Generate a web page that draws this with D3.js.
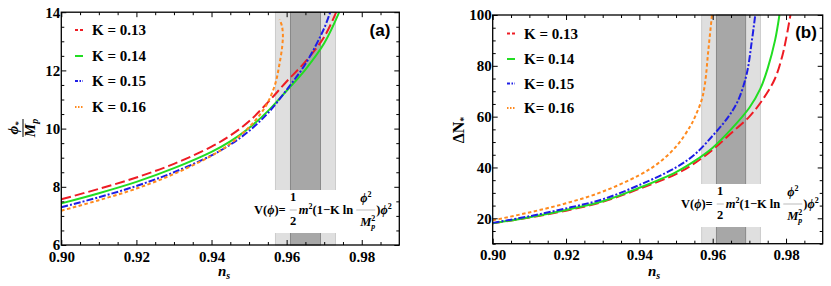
<!DOCTYPE html>
<html><head><meta charset="utf-8">
<script src="https://cdn.jsdelivr.net/npm/d3@7"></script>
<style>body{margin:0;background:#fff} svg text{font-family:'Liberation Serif','Times New Roman',serif;}</style>
</head><body><svg id="c" width="831" height="286"></svg>
<script>
// ---------------- DATA ----------------
const nsMajorTicks = [0.90, 0.92, 0.94, 0.96, 0.98];
const phiTicks = [6, 8, 10, 12, 14];
const dnTicks = [20, 40, 60, 80, 100];
const legendA = ["K = 0.13", "K = 0.14", "K = 0.15", "K = 0.16"];
const legendB = ["K = 0.13", "K= 0.14", "K= 0.15", "K= 0.16"];
const bandOuter = [0.957, 0.973];
const bandInner = [0.961, 0.969];

// panel (a): phi_*/M_p vs n_s
const phiK013 = [[0.900,7.57],[0.910,7.93],[0.920,8.32],[0.930,8.79],[0.940,9.38],[0.945,9.76],[0.950,10.25],[0.955,10.90],[0.960,11.62],[0.965,12.30],[0.970,13.15],[0.9732,14.0]];
const phiK014 = [[0.900,7.43],[0.910,7.78],[0.920,8.17],[0.930,8.64],[0.940,9.20],[0.945,9.56],[0.950,10.02],[0.955,10.60],[0.960,11.30],[0.965,12.03],[0.970,12.93],[0.9740,14.0]];
const phiK015 = [[0.900,7.30],[0.910,7.64],[0.920,8.03],[0.930,8.50],[0.940,9.08],[0.945,9.45],[0.950,9.92],[0.955,10.53],[0.960,11.33],[0.965,12.22],[0.970,13.45],[0.9716,14.0]];
const phiK016 = [[0.900,7.18],[0.910,7.54],[0.920,7.94],[0.930,8.44],[0.940,9.07],[0.945,9.48],[0.950,10.05],[0.953,10.50],[0.955,10.90],[0.957,11.55],[0.958,12.15],[0.9588,12.80],[0.9590,13.25],[0.9587,13.55],[0.9581,13.75]];

// panel (b): Delta N_* vs n_s
const dnK013 = [[0.900,18.0],[0.910,20.3],[0.920,23.0],[0.930,26.5],[0.940,31.6],[0.950,37.4],[0.955,41.6],[0.960,47.0],[0.965,53.5],[0.970,60.0],[0.974,67.5],[0.977,75.0],[0.979,84.0],[0.980,90.5],[0.9812,100.0]];
const dnK014 = [[0.900,18.0],[0.910,20.4],[0.920,23.3],[0.930,26.7],[0.940,32.0],[0.950,38.2],[0.955,42.5],[0.960,47.8],[0.965,55.0],[0.970,63.5],[0.973,71.0],[0.975,79.0],[0.977,90.0],[0.9782,100.0]];
const dnK015 = [[0.900,18.2],[0.910,20.8],[0.920,23.9],[0.930,27.5],[0.940,33.1],[0.950,40.0],[0.955,45.0],[0.960,52.5],[0.9643,60.0],[0.967,66.6],[0.9693,77.0],[0.9706,89.0],[0.9716,100.0]];
const dnK016 = [[0.900,19.2],[0.910,22.3],[0.920,25.9],[0.930,30.5],[0.940,37.0],[0.945,41.5],[0.950,48.2],[0.9538,56.0],[0.9552,60.0],[0.957,66.6],[0.9579,73.0],[0.9588,86.0],[0.9598,100.0]];

const seriesColors = ["#ee1c24", "#22dd22", "#1e1ee6", "#ff8a1e"];
const seriesDash = ["10,4", null, "7,2,2,2", "3.5,2.5"];
const seriesA = [phiK013, phiK014, phiK015, phiK016];
const seriesB = [dnK013, dnK014, dnK015, dnK016];

// ---------------- DRAW ----------------
const serif = "'Liberation Serif','Times New Roman',serif";
const sans = "'Liberation Sans',Arial,sans-serif";
const svg = d3.select("#c");

function panel(o) {
  const x = d3.scaleLinear().domain([0.90, 0.99]).range([o.x0, o.x1]);
  const y = d3.scaleLinear().domain(o.ydom).range([o.y1, o.y0]);
  const g = svg.append("g");
  const clipId = "clip" + o.id;
  svg.append("clipPath").attr("id", clipId).append("rect")
    .attr("x", o.x0).attr("y", o.y0).attr("width", o.x1 - o.x0).attr("height", o.y1 - o.y0);

  g.append("rect").attr("x", x(bandOuter[0])).attr("y", o.y0)
    .attr("width", x(bandOuter[1]) - x(bandOuter[0])).attr("height", o.y1 - o.y0)
    .attr("fill", "#dfdfdf").attr("stroke", "#c4c4c4").attr("stroke-width", 0.8);
  g.append("rect").attr("x", x(bandInner[0])).attr("y", o.y0)
    .attr("width", x(bandInner[1]) - x(bandInner[0])).attr("height", o.y1 - o.y0)
    .attr("fill", "#a7a7a7").attr("stroke", "#7c7c7c").attr("stroke-width", 0.8);

  formula(g, o.fx, o.fy);

  const line = d3.line().x(d => x(d[0])).y(d => y(d[1])).curve(d3.curveCatmullRom.alpha(0.5));
  const cg = g.append("g").attr("clip-path", `url(#${clipId})`);
  o.series.forEach((s, i) => {
    cg.append("path").datum(s).attr("d", line).attr("fill", "none")
      .attr("stroke", seriesColors[i]).attr("stroke-width", 2)
      .attr("stroke-dasharray", seriesDash[i]);
  });

  const minorX = d3.range(0.905, 0.99, 0.005).filter(v => nsMajorTicks.every(t => Math.abs(t - v) > 1e-6));
  const minorY = d3.range(o.ydom[0], o.ydom[1] + 1e-9, o.ystep).filter(v => o.yticks.every(t => Math.abs(t - v) > 1e-6));
  const style = sel => { sel.select(".domain").remove(); sel.attr("font-family", null); sel.selectAll("line").attr("stroke", "#000").attr("stroke-width", 1); };
  const lab = sel => sel.selectAll("text").style("font-family", serif).style("font-size", "15px").style("font-weight", "bold").attr("fill", "#000");

  g.append("g").attr("transform", `translate(0,${o.y1})`)
    .call(d3.axisBottom(x).tickValues(nsMajorTicks).tickFormat(d3.format(".2f")).tickSizeInner(-5).tickSizeOuter(0).tickPadding(6))
    .call(style).call(lab).selectAll("text").attr("dy", "0.71em");
  g.append("g").attr("transform", `translate(0,${o.y1})`)
    .call(d3.axisBottom(x).tickValues(minorX).tickFormat("").tickSizeInner(-3).tickSizeOuter(0)).call(style);
  g.append("g").attr("transform", `translate(0,${o.y0})`)
    .call(d3.axisTop(x).tickValues(nsMajorTicks).tickFormat("").tickSizeInner(-5).tickSizeOuter(0)).call(style);
  g.append("g").attr("transform", `translate(0,${o.y0})`)
    .call(d3.axisTop(x).tickValues(minorX).tickFormat("").tickSizeInner(-3).tickSizeOuter(0)).call(style);

  g.append("g").attr("transform", `translate(${o.x0},0)`)
    .call(d3.axisLeft(y).tickValues(o.yticks).tickSizeInner(-5).tickSizeOuter(0).tickPadding(1))
    .call(style).call(lab);
  g.append("g").attr("transform", `translate(${o.x0},0)`)
    .call(d3.axisLeft(y).tickValues(minorY).tickFormat("").tickSizeInner(-3).tickSizeOuter(0)).call(style);
  g.append("g").attr("transform", `translate(${o.x1},0)`)
    .call(d3.axisRight(y).tickValues(o.yticks).tickFormat("").tickSizeInner(-5).tickSizeOuter(0)).call(style);
  g.append("g").attr("transform", `translate(${o.x1},0)`)
    .call(d3.axisRight(y).tickValues(minorY).tickFormat("").tickSizeInner(-3).tickSizeOuter(0)).call(style);

  g.append("rect").attr("x", o.x0).attr("y", o.y0).attr("width", o.x1 - o.x0).attr("height", o.y1 - o.y0)
    .attr("fill", "none").attr("stroke", "#000").attr("stroke-width", 1.3);

  o.legend.forEach((t, i) => {
    const ly = o.ly[i];
    g.append("line").attr("x1", o.lx).attr("x2", o.lx + 8).attr("y1", ly).attr("y2", ly)
      .attr("stroke", seriesColors[i]).attr("stroke-width", 2).attr("stroke-dasharray", i === 0 ? "3,2" : i === 2 ? "3,1.5,1.5,1.5" : i === 3 ? "1.5,1.5" : null);
    g.append("text").attr("x", o.lx + 17).attr("y", ly).attr("dy", "0.35em")
      .style("font-family", serif).attr("font-size", 15).attr("font-weight", "bold").text(t);
  });

  g.append("text").attr("x", o.tagx).attr("y", o.tagy).attr("text-anchor", "middle")
    .style("font-family", sans).attr("font-size", 17).attr("font-weight", "bold").text(o.tag);

  const xl = g.append("text").attr("x", o.xlx).attr("y", 276).attr("text-anchor", "middle")
    .style("font-family", serif).attr("font-size", 15).attr("font-weight", "bold").attr("font-style", "italic");
  xl.append("tspan").text("n");
  xl.append("tspan").attr("font-size", 10).attr("dy", 3).text("s");
  return {x, y, g};
}

function formula(g, x0, yb) {
  const fs = 12.5;
  const fg = g.append("g");
  const bg = fg.append("rect").attr("fill", "#fff");
  let x = x0;
  function seg(parts, yy, measure = true, anchor = "start", xx = null) {
    const t = fg.append("text").attr("x", xx == null ? x : xx).attr("y", yy).attr("text-anchor", anchor)
      .style("font-family", serif).attr("font-size", fs).attr("font-weight", "bold");
    parts.forEach(p => {
      const ts = t.append("tspan").text(p[0]);
      if (p[1] && p[1].includes("i")) ts.attr("font-style", "italic");
      if (p[1] && p[1].includes("^")) ts.attr("font-size", 8).attr("dy", -5);
      if (p[1] && p[1].includes("_")) ts.attr("font-size", 8).attr("dy", 8).attr("dx", -4);
      if (p[1] && p[1].includes("r")) ts.attr("dy", p[2]);
    });
    const w = t.node().getComputedTextLength();
    if (measure) x += w;
    return w;
  }
  seg([["V(", ""], ["ϕ", "i"], [")=", ""]], yb);
  x += 4;
  const fw1 = 7;
  seg([["1", ""]], yb - 13, false, "middle", x + fw1 / 2);
  seg([["2", ""]], yb + 11, false, "middle", x + fw1 / 2);
  fg.append("line").attr("x1", x).attr("x2", x + fw1).attr("y1", yb - 4).attr("y2", yb - 4).attr("stroke", "#777").attr("stroke-width", 0.5);
  x += fw1 + 2;
  seg([["m", "i"], ["2", "^"], ["(1\u2212K ln", "r", 5]], yb);
  x += 3;
  const fw2 = 19;
  seg([["ϕ", "i"], ["2", "^"]], yb - 12, false, "middle", x + fw2 / 2);
  seg([["M", "i"], ["2", "^"], ["p", "_i"]], yb + 12, false, "middle", x + fw2 / 2 + 2);
  fg.append("line").attr("x1", x).attr("x2", x + fw2).attr("y1", yb - 4).attr("y2", yb - 4).attr("stroke", "#777").attr("stroke-width", 0.5);
  x += fw2 + 1;
  seg([[")", ""], ["ϕ", "i"], ["2", "^"]], yb);
  bg.attr("x", x0 - 3).attr("y", yb - 24).attr("width", x - x0 + 5).attr("height", 43);
}

panel({id: "a", x0: 61.3, x1: 399.3, y0: 12.2, y1: 245, ydom: [6, 14], ystep: 0.5, yticks: phiTicks,
  series: seriesA, legend: legendA, lx: 75, ly: [30, 56, 81, 107], tag: "(a)", tagx: 380, tagy: 36,
  xlx: 224, fx: 254, fy: 214});
panel({id: "b", x0: 492.7, x1: 822.7, y0: 15, y1: 243.7, ydom: [10, 100], ystep: 5, yticks: dnTicks,
  series: seriesB, legend: legendB, lx: 507, ly: [33.5, 59, 83.5, 108], tag: "(b)", tagx: 806, tagy: 38,
  xlx: 654, fx: 681, fy: 208});

const ya = svg.append("g").attr("transform", "translate(23,128) rotate(-90)");
const num = ya.append("text").attr("x", 0).attr("y", -5).attr("text-anchor", "middle")
  .style("font-family", serif).attr("font-size", 15).attr("font-weight", "bold").attr("font-style", "italic");
num.append("tspan").text("ϕ");
num.append("tspan").attr("font-size", 9).attr("dy", 3).text("*");
ya.append("line").attr("x1", -9).attr("x2", 9).attr("y1", 0).attr("y2", 0).attr("stroke", "#000").attr("stroke-width", 1);
const den = ya.append("text").attr("x", 0).attr("y", 12).attr("text-anchor", "middle")
  .style("font-family", serif).attr("font-size", 15).attr("font-weight", "bold").attr("font-style", "italic");
den.append("tspan").text("M");
den.append("tspan").attr("font-size", 10).attr("dy", 3).text("p");

const ybl = svg.append("text").attr("transform", "translate(464,130) rotate(-90)").attr("text-anchor", "middle")
  .style("font-family", serif).attr("font-size", 16).attr("font-weight", "bold");
ybl.append("tspan").text("ΔN");
ybl.append("tspan").attr("font-size", 10).attr("dy", 3).text("*");
</script></body></html>
